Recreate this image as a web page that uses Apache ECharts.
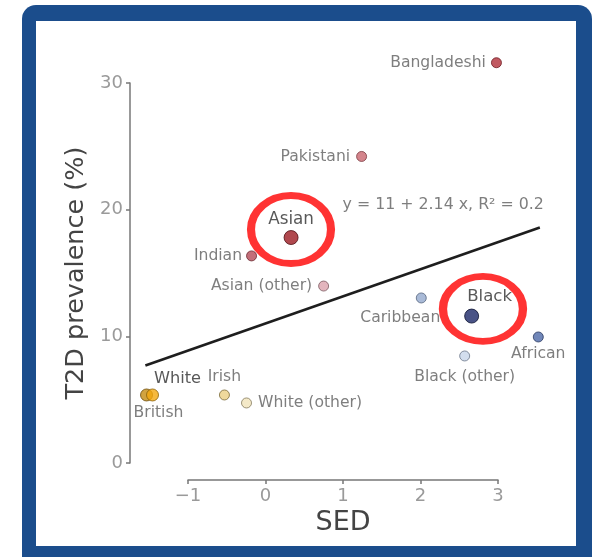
<!DOCTYPE html>
<html>
<head>
<meta charset="utf-8">
<script src="https://cdn.jsdelivr.net/npm/echarts@6/dist/echarts.min.js"></script>
<style>
  html, body { margin: 0; padding: 0; background: #ffffff; }
  #chart { width: 595px; height: 557px; }
</style>
</head>
<body>
<div id="chart"></div>
<script>
// ---- data ----
const groups = ['Bangladeshi', 'Pakistani', 'Asian', 'Indian', 'Asian (other)', 'Caribbean', 'Black', 'African', 'Black (other)', 'White', 'British', 'Irish', 'White (other)'];
const sedValues = [2.98, 1.24, 0.33, -0.18, 0.75, 2.01, 2.66, 3.52, 2.57, -1.535, -1.458, -0.53, -0.245];
const t2dValues = [31.6, 24.2, 17.8, 16.35, 13.97, 13.03, 11.6, 9.95, 8.45, 5.37, 5.37, 5.37, 4.74];
const xTicks = [-1, 0, 1, 2, 3];
const yTicks = [0, 10, 20, 30];
const fitSed = [-1.55, 3.54];
const fitT2d = [7.7, 18.6];
const fitText = 'y = 11 + 2.14 x, R\u00b2 = 0.2';
const fitTextAt = [0.994, 20.37];
const highlightGroups = ['Asian', 'Black'];
const highlightSed = [0.329, 2.806];
const highlightT2d = [18.43, 12.16];

// ---- styles / layout ----
const pointStyle = {
  'Bangladeshi':   { color: '#b2303a', border: '#6e1a20', size: 10 },
  'Pakistani':     { color: '#c9666f', border: '#7a3a40', size: 10 },
  'Asian':         { color: '#9c1a22', border: '#4e0c10', size: 14 },
  'Indian':        { color: '#b44a58', border: '#6a2a32', size: 10 },
  'Asian (other)': { color: '#dca3ad', border: '#7a5a60', size: 10 },
  'Caribbean':     { color: '#93a9cd', border: '#56657e', size: 10 },
  'Black':         { color: '#1b2868', border: '#0a1030', size: 14 },
  'African':       { color: '#4d69a8', border: '#2a3a60', size: 10 },
  'Black (other)': { color: '#c8d6ea', border: '#6a7688', size: 10 },
  'White':         { color: '#c58c10', border: '#6a4a08', size: 12 },
  'British':       { color: '#f4a80e', border: '#8a6008', size: 12 },
  'Irish':         { color: '#ebd083', border: '#7a6a3a', size: 10 },
  'White (other)': { color: '#f1e3ba', border: '#857a5c', size: 10 }
};
const labelLayout = {
  'Bangladeshi':   { position: 'left', distance: 5 },
  'Pakistani':     { position: 'left', distance: 6 },
  'Asian':         { position: 'inside', offset: [0, -18], strong: 16.8 },
  'Indian':        { position: 'left', distance: 4 },
  'Asian (other)': { position: 'left', distance: 6 },
  'Caribbean':     { position: 'inside', offset: [-21, 20] },
  'Black':         { position: 'inside', offset: [18, -19], strong: 16.6 },
  'African':       { position: 'inside', offset: [0, 17] },
  'Black (other)': { position: 'inside', offset: [0, 21] },
  'White':         { position: 'inside', offset: [31, -16], strong: 16.2 },
  'British':       { position: 'inside', offset: [6, 18] },
  'Irish':         { position: 'inside', offset: [0, -18] },
  'White (other)': { position: 'right', distance: 6 }
};
const ringSize = { 'Asian': [80, 68], 'Black': [80, 65] };

const FONT = '"DejaVu Sans", "Liberation Sans", sans-serif';

// axes box (pixels) and the wider data box that shares the same scale
const AX = { left: 188, top: 83, width: 310, height: 380 };
const pxX = AX.width / (xTicks[xTicks.length - 1] - xTicks[0]);
const pxY = AX.height / (yTicks[yTicks.length - 1] - yTicks[0]);
const DATA = { left: 130, top: 32, right: 560, bottom: 480 };
const dataXMin = xTicks[0] - (AX.left - DATA.left) / pxX;
const dataXMax = xTicks[xTicks.length - 1] + (DATA.right - AX.left - AX.width) / pxX;
const dataYMin = yTicks[0] - (DATA.bottom - AX.top - AX.height) / pxY;
const dataYMax = yTicks[yTicks.length - 1] + (AX.top - DATA.top) / pxY;

const pointData = groups.map((g, i) => {
  const s = pointStyle[g];
  const l = labelLayout[g];
  const label = {
    show: true,
    formatter: g,
    position: l.position,
    color: l.strong ? '#2e2e2e' : '#5e5e5e',
    fontFamily: FONT,
    fontSize: l.strong ? l.strong : 15.6
  };
  if (l.distance !== undefined) label.distance = l.distance;
  if (l.offset) label.offset = l.offset;
  return {
    name: g,
    value: [sedValues[i], t2dValues[i]],
    symbolSize: s.size,
    itemStyle: { color: s.color, borderColor: s.border, borderWidth: 1 },
    label: label
  };
});

const ringData = highlightGroups.map((g, i) => ({
  name: g,
  value: [highlightSed[i], highlightT2d[i]],
  symbolSize: ringSize[g]
}));

const chart = echarts.init(document.getElementById('chart'), null, { renderer: 'canvas' });
chart.setOption({
  animation: false,
  backgroundColor: '#ffffff',
  graphic: [
    { type: 'rect', z: -10, shape: { x: 22, y: 5, width: 570, height: 590, r: 14 }, style: { fill: '#1b4d8c' } },
    { type: 'rect', z: -9, shape: { x: 36, y: 21, width: 540, height: 525 }, style: { fill: '#ffffff' } }
  ],
  grid: [
    { left: AX.left, top: AX.top, width: AX.width, height: AX.height, containLabel: false },
    { left: DATA.left, top: DATA.top, width: DATA.right - DATA.left, height: DATA.bottom - DATA.top, containLabel: false }
  ],
  xAxis: [
    {
      gridIndex: 0, type: 'value', min: xTicks[0], max: xTicks[xTicks.length - 1], interval: 1,
      offset: 17,
      name: 'SED', nameLocation: 'middle', nameGap: 29,
      nameTextStyle: { fontFamily: FONT, fontSize: 27, color: '#444' },
      axisLine: { show: true, onZero: false, lineStyle: { color: '#777', width: 1.5 } },
      axisTick: { show: true, length: 4, lineStyle: { color: '#777', width: 1.5 } },
      axisLabel: { margin: 7, fontFamily: FONT, fontSize: 18, color: '#9a9a9a',
        formatter: v => String(v).replace('-', '\u2212') },
      splitLine: { show: false }
    },
    {
      gridIndex: 1, type: 'value', min: dataXMin, max: dataXMax, show: false,
      splitLine: { show: false }
    }
  ],
  yAxis: [
    {
      gridIndex: 0, type: 'value', min: yTicks[0], max: yTicks[yTicks.length - 1], interval: 10,
      offset: 58,
      name: 'T2D prevalence (%)', nameLocation: 'middle', nameGap: 40, nameRotate: 90,
      nameTextStyle: { fontFamily: FONT, fontSize: 25.5, color: '#444' },
      axisLine: { show: true, onZero: false, lineStyle: { color: '#777', width: 1.5 } },
      axisTick: { show: true, length: 4, lineStyle: { color: '#777', width: 1.5 } },
      axisLabel: { margin: 7, fontFamily: FONT, fontSize: 18, color: '#9a9a9a' },
      splitLine: { show: false }
    },
    {
      gridIndex: 1, type: 'value', min: dataYMin, max: dataYMax, show: false,
      splitLine: { show: false }
    }
  ],
  series: [
    {
      type: 'line', xAxisIndex: 1, yAxisIndex: 1, clip: false, silent: true, showSymbol: false, z: 2,
      data: fitSed.map((x, i) => [x, fitT2d[i]]),
      lineStyle: { color: '#1e1e1e', width: 2.6 }
    },
    {
      type: 'scatter', xAxisIndex: 1, yAxisIndex: 1, clip: false, silent: true, z: 3,
      symbolSize: 0,
      data: [{ value: fitTextAt, label: { show: true, formatter: fitText, position: 'inside', align: 'left',
        color: '#5e5e5e', fontFamily: FONT, fontSize: 15.8 } }]
    },
    {
      type: 'scatter', xAxisIndex: 1, yAxisIndex: 1, clip: false, silent: true, z: 4,
      data: pointData
    },
    {
      type: 'scatter', xAxisIndex: 1, yAxisIndex: 1, clip: false, silent: true, z: 6,
      symbol: 'circle',
      data: ringData,
      itemStyle: { color: 'rgba(0,0,0,0)', borderColor: '#ff0000', borderWidth: 7.5 },
      label: { show: false }
    }
  ]
});
</script>
</body>
</html>
